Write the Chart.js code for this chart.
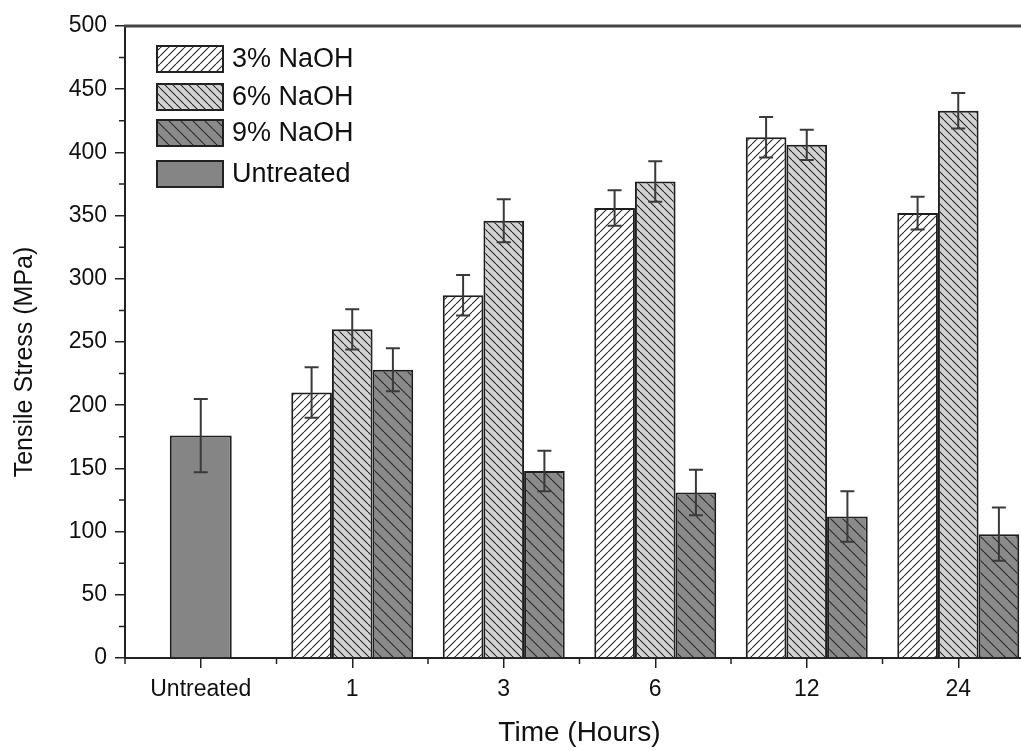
<!DOCTYPE html>
<html>
<head>
<meta charset="utf-8">
<script src="https://cdn.jsdelivr.net/npm/chart.js@4.4.1/dist/chart.umd.min.js"></script>
<style>
  html, body { margin: 0; padding: 0; background: #fff; overflow: hidden; }
  #wrap { width: 1021px; height: 751px; overflow: hidden; }
</style>
</head>
<body>
<div id="wrap"><canvas id="tensileChart" width="1040" height="751"></canvas></div>
<script>
// Data
const categories = ['Untreated', '1', '3', '6', '12', '24'];
const naoh3 = [null, 210, 287, 356, 412, 352];
const naoh6 = [null, 260, 346, 377, 406, 433];
const naoh9 = [null, 228, 148, 131, 112, 98];
const untreated = [176, null, null, null, null, null];
const err3 = [null, 20, 16, 14, 16, 13];
const err6 = [null, 16, 17, 16, 12, 14];
const err9 = [null, 17, 16, 18, 20, 21];
const errU = [29, null, null, null, null, null];
const yTicks = [0, 50, 100, 150, 200, 250, 300, 350, 400, 450, 500];

function hatch(bg, size, dir) {
  const c = document.createElement('canvas');
  c.width = size; c.height = size;
  const g = c.getContext('2d');
  g.fillStyle = bg;
  g.fillRect(0, 0, size, size);
  g.strokeStyle = '#2a2a2a';
  g.lineWidth = 1.1;
  g.beginPath();
  for (let k = -1; k <= 1; k++) {
    if (dir === '/') {
      g.moveTo(k * size, size); g.lineTo(k * size + size, 0);
    } else {
      g.moveTo(k * size, 0); g.lineTo(k * size + size, size);
    }
  }
  g.stroke();
  return g.createPattern(c, 'repeat');
}

const fill3 = hatch('#ffffff', 8, '/');
const fill6 = hatch('#d2d2d2', 8, '\\');
const fill9 = hatch('#8a8a8a', 12, '\\');
const fillU = '#858585';

const errorSets = [err3, err6, err9, errU];

const extras = {
  id: 'extras',
  afterDatasetsDraw(chart) {
    const ctx = chart.ctx;
    const y = chart.scales.y;
    ctx.save();
    ctx.strokeStyle = '#3a3a3a';
    ctx.lineWidth = 2;
    chart.data.datasets.forEach((ds, i) => {
      const meta = chart.getDatasetMeta(i);
      const errs = errorSets[i];
      meta.data.forEach((bar, j) => {
        const v = ds.data[j];
        if (v == null || errs[j] == null) return;
        const top = y.getPixelForValue(v + errs[j]);
        const bot = y.getPixelForValue(v - errs[j]);
        ctx.beginPath();
        ctx.moveTo(bar.x, top); ctx.lineTo(bar.x, bot);
        ctx.moveTo(bar.x - 7, top); ctx.lineTo(bar.x + 7, top);
        ctx.moveTo(bar.x - 7, bot); ctx.lineTo(bar.x + 7, bot);
        ctx.stroke();
      });
    });
    ctx.restore();
  },
  afterDraw(chart) {
    const ctx = chart.ctx;
    const a = chart.chartArea;
    const y = chart.scales.y;
    ctx.save();
    // top frame
    ctx.strokeStyle = '#444';
    ctx.lineWidth = 3;
    ctx.beginPath();
    ctx.moveTo(a.left - 1, a.top); ctx.lineTo(chart.width, a.top);
    ctx.stroke();
    // minor ticks
    ctx.strokeStyle = '#222';
    ctx.lineWidth = 1.5;
    ctx.beginPath();
    for (let i = 0; i < yTicks.length - 1; i++) {
      const py = y.getPixelForValue((yTicks[i] + yTicks[i + 1]) / 2);
      ctx.moveTo(a.left - 6, py); ctx.lineTo(a.left, py);
    }
    const step = (a.right - a.left) / categories.length;
    for (let k = 0; k < categories.length; k++) {
      const px = a.left + k * step;
      ctx.moveTo(px, a.bottom); ctx.lineTo(px, a.bottom + 6);
    }
    ctx.stroke();
    // axis titles
    ctx.fillStyle = '#111';
    ctx.textAlign = 'center';
    ctx.textBaseline = 'middle';
    ctx.font = '28px "Liberation Sans", Arial, sans-serif';
    ctx.fillText('Time (Hours)', (a.left + a.right) / 2, 733);
    ctx.save();
    ctx.translate(25, 362);
    ctx.rotate(-Math.PI / 2);
    ctx.font = '25px "Liberation Sans", Arial, sans-serif';
    ctx.fillText('Tensile Stress (MPa)', 0, 0);
    ctx.restore();
    // legend
    const rows = [
      { label: '3% NaOH', fill: fill3, cy: 59 },
      { label: '6% NaOH', fill: fill6, cy: 97 },
      { label: '9% NaOH', fill: fill9, cy: 133 },
      { label: 'Untreated', fill: fillU, cy: 174 }
    ];
    ctx.font = '27px "Liberation Sans", Arial, sans-serif';
    ctx.textAlign = 'left';
    rows.forEach(r => {
      ctx.fillStyle = r.fill;
      ctx.fillRect(157, r.cy - 13, 66, 26);
      ctx.strokeStyle = '#222';
      ctx.lineWidth = 2;
      ctx.strokeRect(157, r.cy - 13, 66, 26);
      ctx.fillStyle = '#111';
      ctx.fillText(r.label, 232, r.cy + 1);
    });
    ctx.restore();
  }
};

const ctx = document.getElementById('tensileChart').getContext('2d');
new Chart(ctx, {
  type: 'bar',
  data: {
    labels: categories,
    datasets: [
      { label: '3% NaOH', data: naoh3, backgroundColor: fill3 },
      { label: '6% NaOH', data: naoh6, backgroundColor: fill6 },
      { label: '9% NaOH', data: naoh9, backgroundColor: fill9 },
      { label: 'Untreated', data: untreated, backgroundColor: fillU, barPercentage: 0.508 }
    ]
  },
  options: {
    responsive: false,
    animation: false,
    layout: { padding: { top: 26, right: 6, left: 0, bottom: 0 } },
    datasets: {
      bar: {
        skipNull: true,
        categoryPercentage: 0.805,
        barPercentage: 1,
        borderColor: '#1e1e1e',
        borderWidth: 2
      }
    },
    plugins: {
      legend: { display: false },
      tooltip: { enabled: false }
    },
    scales: {
      x: {
        afterFit(scale) { scale.height = 93; },
        grid: { offset: false, drawOnChartArea: false, tickLength: 10, color: '#222', lineWidth: 1.5 },
        border: { color: '#222', width: 2 },
        ticks: { color: '#111', padding: 8, font: { family: '"Liberation Sans", Arial', size: 23 } }
      },
      y: {
        min: 0,
        max: 500,
        afterFit(scale) { scale.width = 125; },
        grid: { drawOnChartArea: false, tickLength: 10, color: '#222', lineWidth: 1.5 },
        border: { color: '#222', width: 2 },
        ticks: { stepSize: 50, color: '#111', padding: 8, font: { family: '"Liberation Sans", Arial', size: 23 } }
      }
    }
  },
  plugins: [extras]
});
</script>
</body>
</html>
